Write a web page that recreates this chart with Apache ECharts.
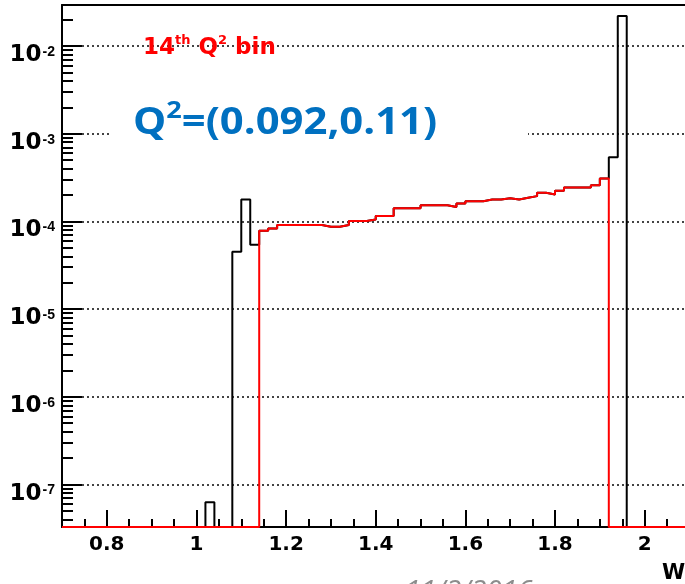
<!DOCTYPE html>
<html><head><meta charset="utf-8">
<script src="https://cdn.jsdelivr.net/npm/echarts@6/dist/echarts.min.js"></script>
<style>html,body{margin:0;padding:0;background:#fff}#c{width:685px;height:584px}</style>
</head><body><div id="c"></div>
<script>
// ---- data (histogram bins 0.70 .. 2.10, width 0.02) ----
const binStart = 0.70;
const binWidth = 0.02;
const redValues = [
  0,0,0,0,0,0,0,0,0,0,            // 0.70-0.88
  0,0,0,0,0,0,0,0,0,0,            // 0.90-1.08
  0,0,                            // 1.10-1.12
  7.8e-5,8.3e-5,9.1e-5,9.1e-5,9.1e-5,9.1e-5,9.1e-5,8.7e-5,8.7e-5,9.1e-5,   // 1.14-1.32
  1.01e-4,1.01e-4,1.05e-4,1.15e-4,1.15e-4,1.41e-4,1.41e-4,1.41e-4,1.53e-4,1.53e-4, // 1.34-1.52
  1.53e-4,1.46e-4,1.60e-4,1.70e-4,1.70e-4,1.78e-4,1.78e-4,1.84e-4,1.78e-4,1.86e-4, // 1.54-1.72
  1.94e-4,2.12e-4,2.03e-4,2.23e-4,2.44e-4,2.44e-4,2.44e-4,2.59e-4,3.09e-4,       // 1.74-1.90
  0,0,0,0,0,0,0,0,0               // 1.92-2.08
];
const blackValues = [
  0,0,0,0,0,0,0,0,0,0,            // 0.70-0.88
  0,0,0,0,0,0,6.3e-8,0,0,4.5e-5,  // 0.90-1.08
  1.78e-4,5.4e-5,                 // 1.10-1.12
  7.8e-5,8.3e-5,9.1e-5,9.1e-5,9.1e-5,9.1e-5,9.1e-5,8.7e-5,8.7e-5,9.1e-5,
  1.01e-4,1.01e-4,1.05e-4,1.15e-4,1.15e-4,1.41e-4,1.41e-4,1.41e-4,1.53e-4,1.53e-4,
  1.53e-4,1.46e-4,1.60e-4,1.70e-4,1.70e-4,1.78e-4,1.78e-4,1.84e-4,1.78e-4,1.86e-4,
  1.94e-4,2.12e-4,2.03e-4,2.23e-4,2.44e-4,2.44e-4,2.44e-4,2.59e-4,3.09e-4,
  5.4e-4,2.2e-2,0,0,0,0,0,0,0     // 1.92-2.08
];
const xTickValues = [0.8,1.0,1.2,1.4,1.6,1.8,2.0];
const xTickLabels = ['0.8','1','1.2','1.4','1.6','1.8','2'];
const yTickValues = [1e-7,1e-6,1e-5,1e-4,1e-3,1e-2];
const yTickExponents = ['-7','-6','-5','-4','-3','-2'];
const xMin = 0.70, xMax = 2.09, yMin = 3.28e-8, yMax = 0.0293;

// ---- derived ----
function histData(vals){
  const pts = [];
  vals.forEach((v,i)=>pts.push([+(binStart+i*binWidth).toFixed(2), v>0?v:yMin]));
  const last = vals[vals.length-1];
  pts.push([+(binStart+vals.length*binWidth).toFixed(2), last>0?last:yMin]);
  return pts;
}
const xMinor = [];
for(let k=15;k<=41;k++){ const h=k*5; if(h%20!==0) xMinor.push(h/100); }
const yMinor = [];
for(let n=-8;n<=-2;n++){ for(let m=2;m<=9;m++){ const v=m*Math.pow(10,n); if(v>yMin && v<yMax) yMinor.push(v); } }

const FONT = 'DejaVu Sans';
const chart = echarts.init(document.getElementById('c'), null, {renderer:'canvas'});
chart.setOption({
  animation:false,
  backgroundColor:'#fff',
  grid:{left:62, top:5, right:0, bottom:57},
  xAxis:[
    {type:'value', min:xMin, max:xMax, position:'bottom',
     axisLine:{show:true, lineStyle:{color:'#000', width:2}},
     axisTick:{show:true, inside:true, length:17, customValues:xTickValues, lineStyle:{color:'#000', width:2}},
     axisLabel:{show:true, customValues:xTickValues, margin:8, color:'#000', fontFamily:FONT, fontWeight:'bold', fontSize:20,
       formatter:v=>{const i=xTickValues.findIndex(t=>Math.abs(t-v)<1e-6); return i>=0?xTickLabels[i]:'';}},
     splitLine:{show:false}},
    {type:'value', min:xMin, max:xMax, position:'bottom',
     axisLine:{show:false},
     axisTick:{show:true, inside:true, length:8, customValues:xMinor, lineStyle:{color:'#000', width:2}},
     axisLabel:{show:false}, splitLine:{show:false}},
    {type:'value', min:xMin, max:xMax, position:'top',
     axisLine:{show:true, lineStyle:{color:'#000', width:2}},
     axisTick:{show:false}, axisLabel:{show:false}, splitLine:{show:false}}
  ],
  yAxis:[
    {type:'log', logBase:10, min:yMin, max:yMax, position:'left',
     axisLine:{show:true, lineStyle:{color:'#000', width:2}},
     axisTick:{show:true, inside:true, length:20, customValues:yTickValues, lineStyle:{color:'#000', width:2}},
     axisLabel:{show:true, customValues:yTickValues, margin:7,
       formatter:v=>{const i=yTickValues.findIndex(t=>Math.abs(Math.log10(t)-Math.log10(v))<1e-6); return i>=0?('{b|10}{s|'+yTickExponents[i]+'}'):'';},
       rich:{
         b:{fontFamily:FONT, fontWeight:'bold', fontSize:23, lineHeight:20, padding:[18,0,0,0], color:'#000'},
         s:{fontFamily:'Liberation Sans', fontWeight:'bold', fontSize:14, lineHeight:14, padding:[9,0,0,1], verticalAlign:'top', color:'#000'}
       }},
     splitLine:{show:true, lineStyle:{color:'#444', width:2, type:[2,3]}}},
    {type:'log', logBase:10, min:yMin, max:yMax, position:'left',
     axisLine:{show:false},
     axisTick:{show:true, inside:true, length:11, customValues:yMinor, lineStyle:{color:'#000', width:2}},
     axisLabel:{show:false}, splitLine:{show:false}}
  ],
  series:[
    {type:'line', name:'all', xAxisIndex:0, yAxisIndex:0, step:'end', symbol:'none',
     lineStyle:{color:'#000', width:2}, data:histData(blackValues), z:3},
    {type:'line', name:'bin14', xAxisIndex:0, yAxisIndex:0, step:'end', symbol:'none',
     lineStyle:{color:'#ff0000', width:2}, data:histData(redValues), z:4}
  ],
  graphic:[
    {type:'text', x:143, y:34, z:50,
     style:{text:'{n|14}{s|th}{n| Q}{s|2}{n| bin}', textVerticalAlign:'top',
       rich:{
         n:{fontFamily:FONT, fontWeight:'bold', fontSize:23, lineHeight:23, padding:[5,0,0,0], fill:'#ff0000'},
         s:{fontFamily:FONT, fontWeight:'bold', fontSize:13, lineHeight:13, verticalAlign:'top', fill:'#ff0000'}
       }}},
    {type:'rect', z:40, shape:{x:112, y:95, width:416, height:75}, style:{fill:'#fff'}},
    {type:'text', x:133, y:99, z:50, scaleX:1.13,
     style:{text:'{m|Q}{s|2}{m|=(0.092,0.11)}', textVerticalAlign:'top',
       rich:{
         m:{fontFamily:'Open Sans', fontWeight:'bold', fontSize:37, lineHeight:37, padding:[11,0,0,0], fill:'#0070C0'},
         s:{fontFamily:'Open Sans', fontWeight:'bold', fontSize:24, lineHeight:24, verticalAlign:'top', fill:'#0070C0'}
       }}},
    {type:'text', x:662, y:563, z:50,
     style:{text:'W', fontFamily:FONT, fontWeight:'bold', fontSize:21, fill:'#000', textVerticalAlign:'top'}},
    {type:'text', x:405, y:578, z:50,
     style:{text:'11/2/2016', fontFamily:'Open Sans', fontStyle:'italic', fontSize:28, fill:'#8c8c8c', textVerticalAlign:'top'}}
  ]
});
</script></body></html>
